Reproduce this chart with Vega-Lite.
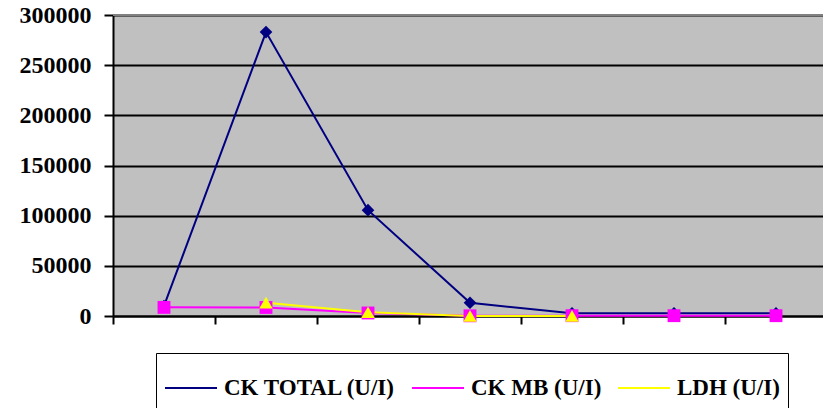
{
  "$schema": "https://vega.github.io/schema/vega-lite/v6.json",
  "width": 710,
  "height": 301,
  "autosize": {"type": "none"},
  "padding": {"left": 113, "top": 15, "right": 0, "bottom": 92},
  "background": "white",
  "config": {
    "view": {"fill": "#C0C0C0", "stroke": null},
    "font": "Liberation Serif"
  },
  "datasets": {
    "mesures": [
      {"jour": "1", "serie": "CK TOTAL (U/I)", "valeur": 10000},
      {"jour": "2", "serie": "CK TOTAL (U/I)", "valeur": 283000},
      {"jour": "3", "serie": "CK TOTAL (U/I)", "valeur": 105500},
      {"jour": "4", "serie": "CK TOTAL (U/I)", "valeur": 13200},
      {"jour": "5", "serie": "CK TOTAL (U/I)", "valeur": 2700},
      {"jour": "6", "serie": "CK TOTAL (U/I)", "valeur": 2700},
      {"jour": "7", "serie": "CK TOTAL (U/I)", "valeur": 2700},
      {"jour": "1", "serie": "CK MB (U/I)", "valeur": 8600},
      {"jour": "2", "serie": "CK MB (U/I)", "valeur": 8500},
      {"jour": "3", "serie": "CK MB (U/I)", "valeur": 3000},
      {"jour": "4", "serie": "CK MB (U/I)", "valeur": 200},
      {"jour": "5", "serie": "CK MB (U/I)", "valeur": 300},
      {"jour": "6", "serie": "CK MB (U/I)", "valeur": 300},
      {"jour": "7", "serie": "CK MB (U/I)", "valeur": 300},
      {"jour": "2", "serie": "LDH (U/I)", "valeur": 13300},
      {"jour": "3", "serie": "LDH (U/I)", "valeur": 3800},
      {"jour": "4", "serie": "LDH (U/I)", "valeur": 100},
      {"jour": "5", "serie": "LDH (U/I)", "valeur": 100}
    ],
    "bord": [{"niveau": 300000}]
  },
  "layer": [
    {
      "data": {"name": "mesures"},
      "mark": {"type": "line", "strokeWidth": 2},
      "encoding": {
        "x": {
          "field": "jour",
          "type": "ordinal",
          "scale": {"range": [0, 714], "paddingInner": 0, "paddingOuter": 0},
          "axis": {
            "title": null,
            "labels": false,
            "grid": false,
            "tickBand": "extent",
            "tickSize": 8,
            "tickColor": "black",
            "tickWidth": 2,
            "domainColor": "black",
            "domainWidth": 2
          }
        },
        "y": {
          "field": "valeur",
          "type": "quantitative",
          "scale": {"domain": [0, 300000], "nice": false},
          "axis": {
            "title": null,
            "values": [0, 50000, 100000, 150000, 200000, 250000, 300000],
            "format": "d",
            "labelFont": "Liberation Serif",
            "labelFontWeight": "bold",
            "labelFontSize": 24,
            "labelColor": "black",
            "labelPadding": 13,
            "tickSize": 9,
            "tickColor": "black",
            "tickWidth": 2,
            "domainColor": "black",
            "domainWidth": 2,
            "gridColor": "black",
            "gridWidth": 2,
            "gridOpacity": 1
          }
        },
        "color": {
          "field": "serie",
          "type": "nominal",
          "scale": {
            "domain": ["CK TOTAL (U/I)", "CK MB (U/I)", "LDH (U/I)"],
            "range": ["#000080", "#FF00FF", "#FFFF00"]
          },
          "legend": {
            "title": null,
            "orient": "none",
            "legendX": 43,
            "legendY": 338,
            "direction": "horizontal",
            "columns": 3,
            "columnPadding": 12,
            "padding": 8,
            "strokeColor": "black",
            "fillColor": "white",
            "labelFont": "Liberation Serif",
            "labelFontWeight": "bold",
            "labelFontSize": 23,
            "labelColor": "black",
            "labelLimit": 400,
            "labelOffset": 6,
            "symbolType": "stroke",
            "symbolSize": 2704,
            "symbolStrokeWidth": 2,
            "symbolOpacity": 1
          }
        }
      }
    },
    {
      "data": {"name": "mesures"},
      "transform": [{"filter": "datum.serie === 'CK TOTAL (U/I)'"}],
      "mark": {"type": "point", "shape": "diamond", "filled": true, "color": "#000080", "opacity": 1, "size": 160, "strokeWidth": 0},
      "encoding": {
        "x": {"field": "jour", "type": "ordinal"},
        "y": {"field": "valeur", "type": "quantitative"}
      }
    },
    {
      "data": {"name": "mesures"},
      "transform": [{"filter": "datum.serie === 'CK MB (U/I)'"}],
      "mark": {"type": "point", "shape": "square", "filled": true, "color": "#FF00FF", "opacity": 1, "size": 165, "strokeWidth": 0},
      "encoding": {
        "x": {"field": "jour", "type": "ordinal"},
        "y": {"field": "valeur", "type": "quantitative"}
      }
    },
    {
      "data": {"name": "mesures"},
      "transform": [{"filter": "datum.serie === 'LDH (U/I)'"}],
      "mark": {"type": "point", "shape": "triangle-up", "filled": true, "color": "#FFFF00", "opacity": 1, "size": 180, "strokeWidth": 0},
      "encoding": {
        "x": {"field": "jour", "type": "ordinal"},
        "y": {"field": "valeur", "type": "quantitative"}
      }
    },
    {
      "data": {"name": "bord"},
      "mark": {"type": "rule", "color": "#808080", "strokeWidth": 2},
      "encoding": {
        "y": {"field": "niveau", "type": "quantitative"}
      }
    }
  ]
}
